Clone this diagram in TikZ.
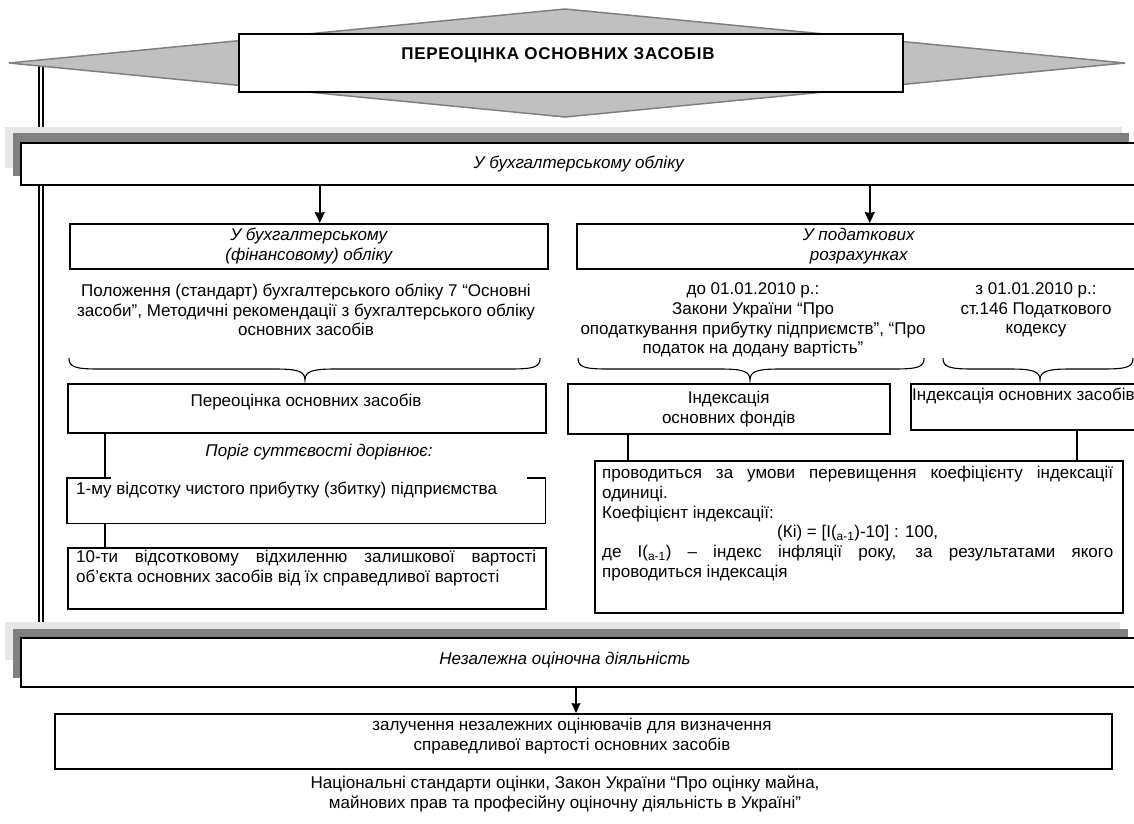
\documentclass[tikz,border=0pt]{standalone}
\usepackage{fontspec}
\setmainfont{Liberation Sans}
\usetikzlibrary{arrows.meta,calc}
\definecolor{bandlight}{HTML}{E6E6E6}
\definecolor{banddark}{HTML}{808080}
\definecolor{diamfill}{HTML}{C0C0C0}
\newcommand\myfs{\fontsize{17}{19.8}\selectfont}
\newcommand\mybrace[3]{%
  \draw[line width=1.1pt] (#1,358) .. controls (#1,367) and (#1+6,369) .. (#1+30,369) -- (#3-30,369) .. controls (#3-8,369) and (#3,371) .. (#3,380) .. controls (#3,371) and (#3+8,369) .. (#3+30,369) -- (#2-30,369) .. controls (#2-6,369) and (#2,367) .. (#2,358);}
\begin{document}
\begin{tikzpicture}[x=1pt,y=-1pt,
  every node/.style={font=\myfs},
  box/.style={draw=black, line width=1.5pt, fill=white, inner sep=0pt, anchor=north west},
  itbox/.style={box, font=\myfs\itshape, align=center},
  plain/.style={inner sep=0pt},
  conn/.style={line width=1.5pt},
  arr/.style={line width=1.5pt, -{Stealth[length=11pt,width=10pt,inset=1pt]}},
  arrsmall/.style={line width=1.1pt, -{Stealth[length=10pt,width=9pt,inset=1pt]}}]
\useasboundingbox (0,0) rectangle (1134,823);
\clip (0,0) rectangle (1134,823);
% left double line
\draw[line width=1.2pt] (39,60) -- (39,622) (43,60) -- (43,622);
% diamond
\draw[draw=banddark, fill=diamfill, line width=1.5pt] (9,63) -- (565,9) -- (1125,63) -- (565,117) -- cycle;
\node[box, minimum width=664, minimum height=58] (title) at (238,33) {};
\node[plain, font=\myfs\bfseries\addfontfeatures{LetterSpace=4}] (titletext) at (558,55) {ПЕРЕОЦІНКА ОСНОВНИХ ЗАСОБІВ};
% band 1
\fill[bandlight] (5,127) rectangle (1122,168);
\fill[banddark] (13,133) rectangle (1129,176);
\node[box, font=\myfs\itshape, minimum width=1116, minimum height=42] (acc) at (20,142) {У бухгалтерському обліку};
% second level
\node[itbox, minimum width=478, minimum height=45] (lbox) at (69,223) {У бухгалтерському\\(фінансовому) обліку};
\node[itbox, minimum width=564, minimum height=45] (rbox) at (576,223) {У податкових\\розрахунках};
\draw[arr] ([xshift=11]lbox.north |- acc.south) -- ([xshift=11]lbox.north);
\draw[arr] ([xshift=11]rbox.north |- acc.south) -- ([xshift=11]rbox.north);
% laws
\node[plain, align=center] (law1) at (306,310) {Положення (стандарт) бухгалтерського обліку 7 “Основні\\засоби”, Методичні рекомендації з бухгалтерського обліку\\основних засобів};
\node[plain, align=center] (law2) at (753,320) {до 01.01.2010 р.:\\Закони України “Про\\оподаткування прибутку підприємств”, “Про\\податок на додану вартість”};
\node[plain, align=center] (law3) at (1036,310) {з 01.01.2010 р.:\\ст.146 Податкового\\кодексу};
\mybrace{69}{540}{305}
\mybrace{578}{924}{750}
\mybrace{943}{1133}{1040}
% third level
\node[box, minimum width=478, minimum height=49] (pereo) at (67,383) {};
\node[plain] (pereot) at (306,402) {Переоцінка основних засобів};
\node[box, minimum width=322, minimum height=50, align=center] (indf) at (567,383) {Індексація\\основних фондів};
\node[box, minimum width=230, minimum height=46] (indz) at (910,383) {};
\node[plain, anchor=west] (indzt) at (912,396) {Індексація основних засобів};
\node[plain, font=\myfs\itshape] (porig) at (319,452) {Поріг суттєвості дорівнює:};
% threshold boxes
\node[inner sep=0pt, anchor=north west, minimum width=478, minimum height=45] (p1) at (67,478) {};
\draw[conn] ([xshift=44]p1.north west) -| (p1.south west) -| (p1.north east) -- ([xshift=-18]p1.north east);
\node[plain, anchor=west] (p1t) at (76,490) {1-му відсотку чистого прибутку (збитку) підприємства};
\node[box, minimum width=478, minimum height=61] (p2) at (67,547) {};
\node[plain, anchor=north west, text width=460, align=justify] (p2t) at (76,550) {10-ти відсотковому відхиленню залишкової вартості\linebreak об’єкта основних засобів від їх справедливої вартості};
\draw[conn] ([xshift=38]pereo.south west) -- ([xshift=38]p1.north west);
\draw[conn] ([xshift=38]p1.south west) -- ([xshift=38]p2.north west);
% indexation box
\node[box, minimum width=528, minimum height=152] (prov) at (594,460) {};
\node[plain, anchor=north west, text width=511, align=justify] (provt) at (602,466) {проводиться за умови перевищення коефіцієнту індексації\linebreak одиниці.\par
Коефіцієнт індексації:\par
{\centering (Кі) = [І(\textsubscript{а-1})-10] : 100,\par}
де І(\textsubscript{а-1}) – індекс інфляції року, за результатами якого\linebreak проводиться індексація};
\draw[conn] ([xshift=61]indf.south west) -- ([xshift=34]prov.north west);
\draw[conn] ([xshift=167]indz.south west) -- ([xshift=483]prov.north west);
% band 2
\fill[bandlight] (5,622) rectangle (1120,660);
\fill[banddark] (13,629) rectangle (1128,678);
\node[box, minimum width=1130, minimum height=49] (ind) at (20,637) {};
\node[plain, font=\myfs\itshape] (indt) at (565,660) {Незалежна оціночна діяльність};
\node[box, minimum width=1057, minimum height=55] (zal) at (54,713) {};
\node[plain, align=center] (zalt) at (572,736) {залучення незалежних оцінювачів для визначення\\справедливої вартості основних засобів};
\draw[arrsmall] ([xshift=522]zal.north west |- ind.south) -- ([xshift=522]zal.north west);
\node[plain, align=center] (std) at (565,794) {Національні стандарти оцінки, Закон України “Про оцінку майна,\\майнових прав та професійну оціночну діяльність в Україні”};
\end{tikzpicture}
\end{document}
